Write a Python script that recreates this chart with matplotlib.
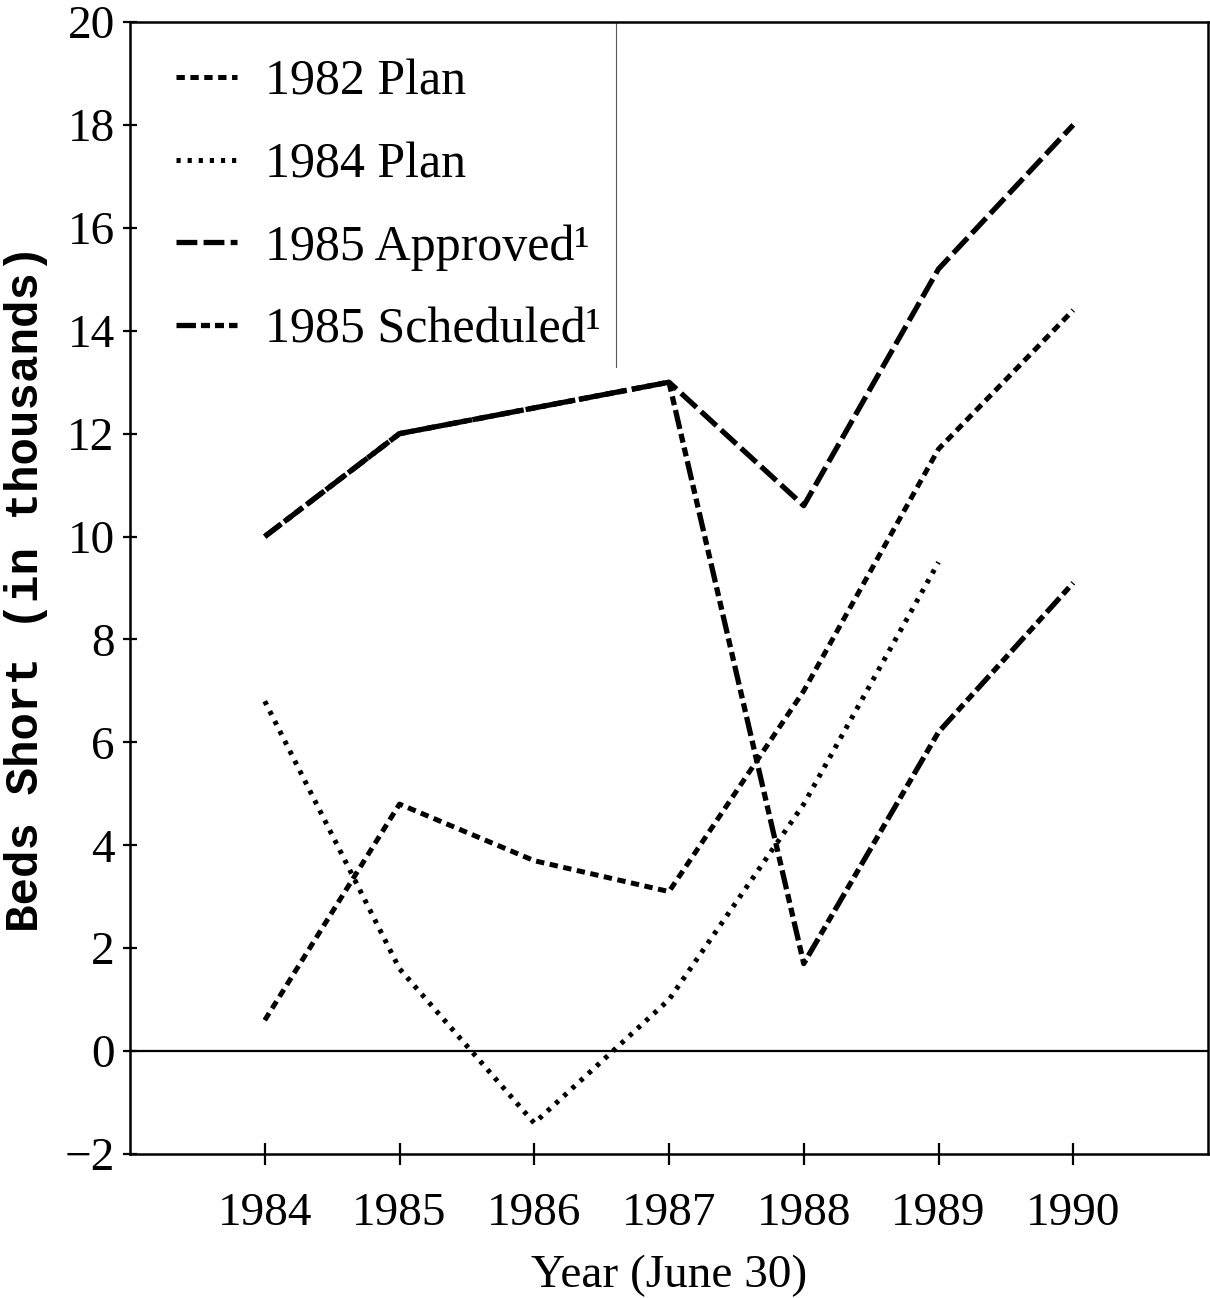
import matplotlib
matplotlib.use("Agg")
import matplotlib.pyplot as plt
import numpy as np

years = [1984, 1985, 1986, 1987, 1988, 1989, 1990]
plan_1982 = [0.6, 4.8, 3.7, 3.1, 7.0, 11.7, 14.4]
plan_1984 = [6.8, 1.6, -1.4, 1.0, 4.8, 9.5, None]
approved_1985 = [10.0, 12.0, 12.5, 13.0, 10.6, 15.2, 18.0]
scheduled_1985 = [10.0, 12.0, 12.5, 13.0, 1.7, 6.2, 9.1]

labels = ["1982 Plan", "1984 Plan", "1985 Approved\u00b9", "1985 Scheduled\u00b9"]
yticks = [-2, 0, 2, 4, 6, 8, 10, 12, 14, 16, 18, 20]
ytick_labels = ["\u22122", "0", "2", "4", "6", "8", "10", "12", "14", "16", "18", "20"]

plt.rcParams['lines.scale_dashes'] = False
serif = ['Liberation Serif', 'DejaVu Serif']

fig = plt.figure(figsize=(12.1, 12.98), dpi=100)
ax = fig.add_axes([130/1210, 144/1298, 1078/1210, 1132/1298])

def arr(v):
    return np.array([np.nan if x is None else x for x in v], dtype=float)

x = np.array(years, dtype=float)
l1, = ax.plot(x, arr(plan_1982), color='black', lw=3.6, dash_capstyle='butt')
l1.set_dashes((6, 4))
l2, = ax.plot(x, arr(plan_1984), color='black', lw=3.6, dash_capstyle='butt')
l2.set_dashes((3.0, 5.0))
l4, = ax.plot(x, arr(scheduled_1985), color='black', lw=3.8, dash_capstyle='butt')
l4.set_dashes((14, 3.6, 6.5, 3.6, 6.5, 3.6))
l3, = ax.plot(x, arr(approved_1985), color='black', lw=3.8, dash_capstyle='butt')
l3.set_dashes((15, 4.5))

ax.axhline(0, color='black', lw=1.6)
# thin vertical stroke (legend frame edge in the scan)
ax.plot([1986.61, 1986.61], [13.3, 20], color='0.35', lw=0.8)

ax.set_xlim(1983, 1991)
ax.set_ylim(-2, 20)
ax.set_xticks(years)
ax.set_xticklabels([str(y) for y in years])
ax.set_yticks(yticks)
ax.set_yticklabels(ytick_labels)

for s in ax.spines.values():
    s.set_linewidth(1.8)

ax.tick_params(axis='x', direction='inout', length=16, width=1.6, pad=20,
               labelsize=34)
ax.tick_params(axis='y', direction='inout', length=10, width=1.6, pad=6,
               labelsize=34)
for lab in ax.get_xticklabels() + ax.get_yticklabels():
    lab.set_fontfamily(serif)

ax.set_xlabel("Year (June 30)", fontsize=34, family=serif, labelpad=14)
ax.set_ylabel("Beds Short (in thousands)", fontsize=33,
              family=['Liberation Mono', 'DejaVu Sans Mono'], fontweight='bold',
              labelpad=12)

leg = ax.legend([l1, l2, l3, l4], labels, loc='upper left',
                bbox_to_anchor=(0.043, 0.967), frameon=False,
                prop={'family': serif, 'size': 36},
                handlelength=1.22, handletextpad=0.56, labelspacing=0.72,
                borderaxespad=0, borderpad=0)

fig.savefig("out.png", dpi=100)
